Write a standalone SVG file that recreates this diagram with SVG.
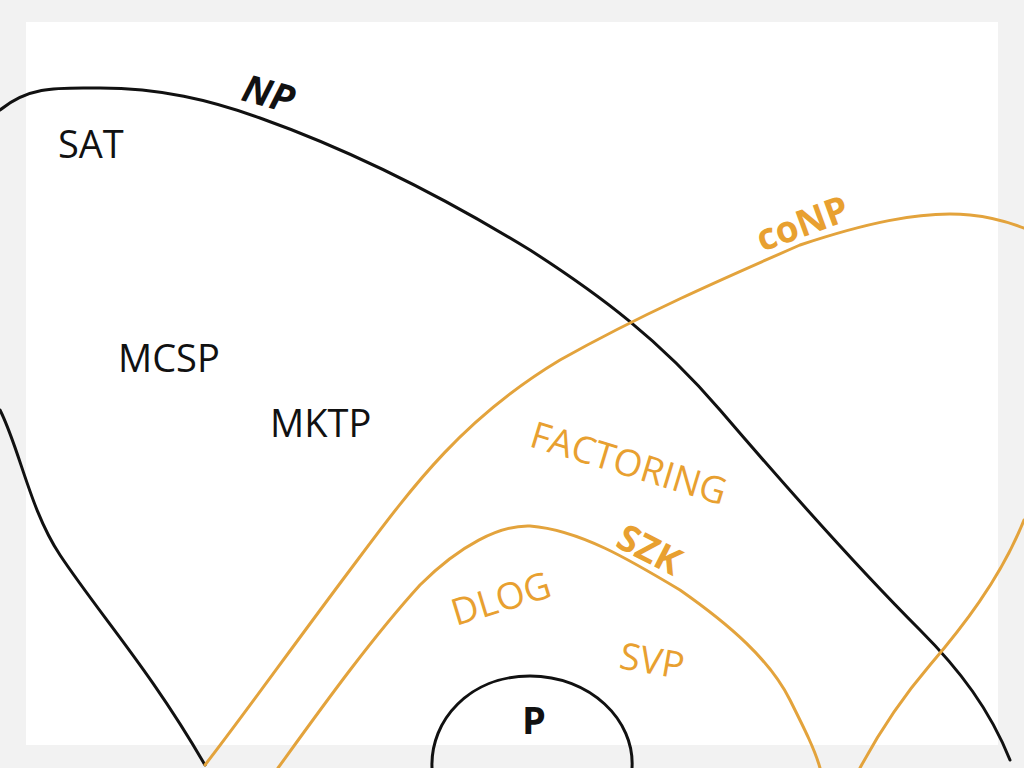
<svg xmlns="http://www.w3.org/2000/svg" width="1024" height="768" viewBox="0 0 1024 768">
<style>
.b{fill:none;stroke:#111;stroke-width:3;stroke-linecap:round}
.o{fill:none;stroke:#e3a33c;stroke-width:3;stroke-linecap:round}
.t{font-family:"Open Sans","Liberation Sans",sans-serif;font-size:38px;fill:#111}
.ot{font-family:"Open Sans","Liberation Sans",sans-serif;font-size:37px;fill:#e8a030}
</style>
<rect width="1024" height="768" fill="#f2f2f2"/>
<rect x="26" y="22" width="972" height="723" fill="#fff"/>
<g id="curves">
<path class="b" d="M0,110 C30,85 60,88 100,88 C160,88 210,100 260,118 C350,150 440,195 530,250 C600,295 660,340 720,410 C780,480 850,560 920,630 C960,670 990,710 1010,760"/>
<path class="b" d="M0,410 C20,450 30,510 60,555 C100,615 150,670 205,765"/>
<path class="o" d="M205,765 C240,720 290,650 350,570 C410,490 460,420 560,360 C640,315 720,280 800,245 C860,225 920,210 970,215 C1000,218 1015,225 1024,228"/>
<path class="o" d="M1024,520 C1000,580 960,630 930,665 C900,700 875,740 860,768"/>
<path class="o" d="M278,768 C320,710 370,640 420,585 C460,545 500,525 530,526 C580,530 630,560 680,590 C730,625 770,660 790,700 C805,730 815,750 820,768"/>
<path class="b" d="M432,768 C430,720 470,676 530,676 C590,676 635,720 632,768"/>
</g>
<g id="labels">
<text class="t" x="240" y="100" transform="rotate(15 240 100)" font-weight="bold" font-style="italic" font-size="46">NP</text>
<text class="t" x="58" y="158">SAT</text>
<text class="t" x="118" y="372">MCSP</text>
<text class="t" x="270" y="437">MKTP</text>
<text class="t" x="522" y="734" font-weight="bold" font-size="30">P</text>
<text class="ot" x="762" y="252" transform="rotate(-20 762 252)" font-weight="bold" font-size="35">coNP</text>
<text class="ot" x="528" y="446" transform="rotate(17 528 446)">FACTORING</text>
<text class="ot" x="614" y="546" transform="rotate(27 614 546)" font-weight="bold" font-size="34">SZK</text>
<text class="ot" x="456" y="626" transform="rotate(-17 456 626)">DLOG</text>
<text class="ot" x="618" y="668" transform="rotate(10 618 668)">SVP</text>
</g>
</svg>
